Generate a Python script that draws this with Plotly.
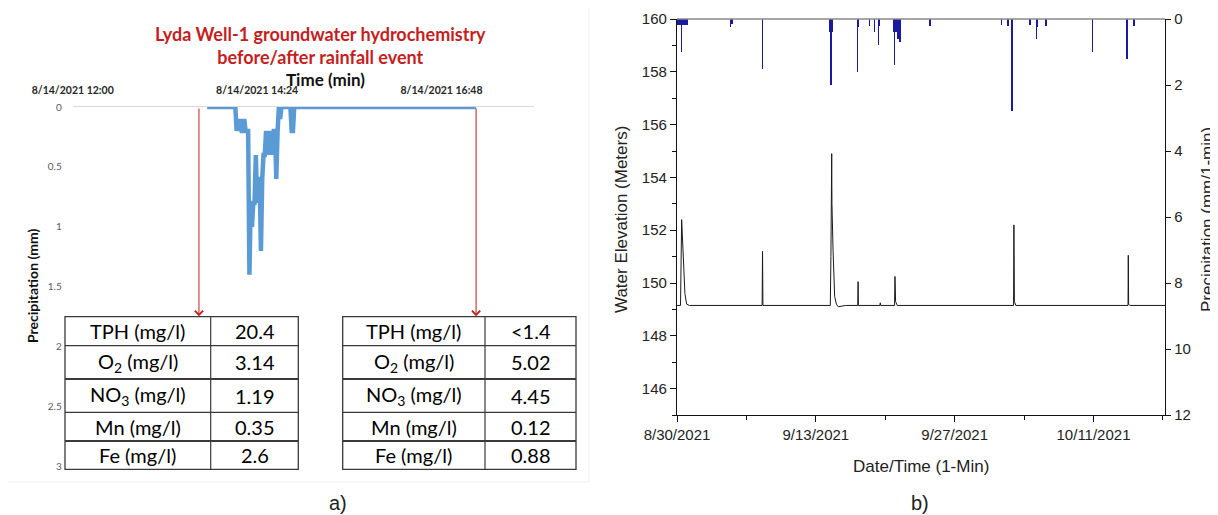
import plotly.graph_objects as go

# the page body adds an 8px margin, so the figure is drawn 8px smaller and
# every reference pixel position is shifted by that offset
OFF = 8
W, H = 1218 - OFF, 515 - OFF

# ---------------- Panel a) data ----------------
A_DAY = "2021-08-14"
A_CLOCK = ["13:45", "14:07", "14:08", "14:09", "14:10", "14:11", "14:12", "14:13", "14:14",
           "14:15", "14:16", "14:17", "14:18", "14:19", "14:20", "14:21", "14:22", "14:23",
           "14:24", "14:25", "14:26", "14:27", "14:28", "14:29", "14:30", "14:31", "14:32",
           "14:33", "14:34", "14:35", "14:36", "14:37", "14:38", "14:39", "14:40", "14:41",
           "14:42", "14:43", "14:50", "14:51", "14:52", "14:53", "17:15"]
A_PRECIP_MM = [0, 0, 0.2, 0.1, 0.2, 0.1, 0.2, 0.2, 0.1,
               0.2, 0.2, 0.2, 1.4, 0.8, 1.0, 0.8, 0.8, 0.4,
               0.8, 0.6, 0.6, 1.2, 0.6, 0.4, 0.4, 0.2, 0.4,
               0.2, 0.4, 0.2, 0.4, 0.2, 0.2, 0.6, 0.2, 0,
               0.1, 0, 0, 0.2, 0.2, 0, 0]
A_SAMPLE_CLOCK = ["13:38:36", "17:15:00"]   # sampling times (red arrows)
A_XTICK_CLOCK = ["12:00", "14:24", "16:48"]
A_XTICK_TEXT = ["8/14/2021 12:00", "8/14/2021 14:24", "8/14/2021 16:48"]
A_YTICKS = [0, 0.5, 1, 1.5, 2, 2.5, 3]
A_YTICK_TEXT = ["0", "0.5", "1", "1.5", "2", "2.5", "3"]

TABLE_PARAMS = ["TPH (mg/l)", "O<sub>2</sub> (mg/l)", "NO<sub>3</sub> (mg/l)",
                "Mn (mg/l)", "Fe (mg/l)"]
BEFORE_VALUES = ["20.4", "3.14", "1.19", "0.35", "2.6"]
AFTER_VALUES = ["&lt;1.4", "5.02", "4.45", "0.12", "0.88"]

# ---------------- Panel b) data ----------------
WL_TIME = ["2021-08-30 00:00", "2021-08-30 08:30", "2021-08-30 11:15", "2021-08-30 15:15",
           "2021-08-30 19:10", "2021-08-30 23:15", "2021-08-31 06:00",
           "2021-09-07 14:00", "2021-09-07 15:00", "2021-09-07 16:00",
           "2021-09-14 11:00", "2021-09-14 12:30", "2021-09-14 14:24", "2021-09-14 15:00",
           "2021-09-14 17:45", "2021-09-14 21:30", "2021-09-15 01:40", "2021-09-15 06:00",
           "2021-09-16 00:00",
           "2021-09-17 05:30", "2021-09-17 06:15", "2021-09-17 07:00",
           "2021-09-19 11:00", "2021-09-19 12:00", "2021-09-19 13:00",
           "2021-09-20 22:30", "2021-09-20 23:30", "2021-09-21 01:00", "2021-09-21 05:00",
           "2021-10-02 22:30", "2021-10-02 23:20", "2021-10-03 00:30", "2021-10-03 04:00",
           "2021-10-14 11:30", "2021-10-14 12:10", "2021-10-14 13:00", "2021-10-14 16:00",
           "2021-10-18 05:00"]
WL_M = [149.15, 149.15, 152.4, 151.0,
        149.6, 149.2, 149.15,
        149.15, 151.2, 149.15,
        149.15, 151.0, 154.9, 153.0,
        151.2, 149.5, 149.2, 149.1,
        149.15,
        149.15, 150.05, 149.15,
        149.15, 149.25, 149.15,
        149.15, 150.25, 149.3, 149.15,
        149.15, 152.2, 149.3, 149.15,
        149.15, 151.05, 149.2, 149.15,
        149.15]

RAIN_TIME = ["2021-08-30 01:12", "2021-08-30 03:36", "2021-08-30 06:00", "2021-08-30 08:24",
             "2021-08-30 10:48", "2021-08-30 13:12", "2021-08-30 15:36", "2021-08-30 18:00",
             "2021-08-30 20:24", "2021-08-30 22:48", "2021-08-31 01:12",
             "2021-09-04 09:36", "2021-09-04 13:12", "2021-09-07 14:24",
             "2021-09-14 10:48", "2021-09-14 13:12", "2021-09-14 15:36",
             "2021-09-17 04:48", "2021-09-17 07:12", "2021-09-18 09:36", "2021-09-18 21:36",
             "2021-09-19 07:12", "2021-09-19 09:36", "2021-09-20 21:36", "2021-09-20 22:48",
             "2021-09-21 02:24", "2021-09-21 07:12", "2021-09-21 12:00", "2021-09-24 12:00",
             "2021-10-01 16:48", "2021-10-02 09:36", "2021-10-02 19:12", "2021-10-04 14:24",
             "2021-10-05 06:00", "2021-10-05 08:24", "2021-10-06 04:48", "2021-10-10 21:36",
             "2021-10-14 09:36", "2021-10-14 10:48", "2021-10-15 02:24"]
RAIN_MM = [0.18, 0.18, 0.18, 0.18,
           1.0, 0.18, 0.18, 0.18,
           0.18, 0.18, 0.18,
           0.23, 0.15, 1.5,
           0.38, 2.0, 0.38,
           1.6, 0.25, 0.2, 0.38,
           0.8, 0.2, 0.4, 1.4,
           0.4, 0.6, 0.7, 0.2,
           0.18, 0.2, 2.8, 0.18,
           0.6, 0.25, 0.2, 1.0,
           1.2, 0.6, 0.2]

B_XTICKS = ["2021-08-30", "2021-09-13", "2021-09-27", "2021-10-11"]
B_XMINOR = ["2021-09-06", "2021-09-20", "2021-10-04", "2021-10-18"]
B_YTICKS = [146, 148, 150, 152, 154, 156, 158, 160]
B_YMINOR = [145, 147, 149, 151, 153, 155, 157, 159]
B_Y2TICKS = [0, 2, 4, 6, 8, 10, 12]


def px(x):
    return (x - OFF) / W


def py(y):
    return 1 - (y - OFF) / H


CAL = "Lato"
ARI = "Liberation Sans, Arial"
RED = "#c41e1e"

fig = go.Figure()

# ---- panel a) trace
fig.add_trace(go.Scatter(
    x=[f"{A_DAY} {c}" for c in A_CLOCK], y=A_PRECIP_MM,
    mode="lines", line=dict(color="#5b9bd5", width=4.5),
    xaxis="x", yaxis="y", showlegend=False, hoverinfo="skip"))

# ---- panel b) traces
fig.add_trace(go.Scatter(
    x=WL_TIME, y=WL_M, mode="lines", line=dict(color="#1a1a1a", width=1),
    xaxis="x2", yaxis="y2", showlegend=False, hoverinfo="skip"))
fig.add_trace(go.Bar(
    x=RAIN_TIME, y=RAIN_MM, width=0.05 * 86400000,
    marker=dict(color="#1a1aa0", line=dict(width=0)),
    xaxis="x2", yaxis="y3", showlegend=False, hoverinfo="skip"))

A_X0, A_X1 = 72.7, 533.7
A_Y0, A_Y1 = 107, 466.6
B_X0, B_X1 = 677, 1165
B_Y0, B_Y1 = 19, 415

fig.update_layout(
    width=W, height=H, margin=dict(l=0, r=0, t=0, b=0, autoexpand=False),
    paper_bgcolor="white", plot_bgcolor="rgba(0,0,0,0)",
    bargap=0,
    xaxis=dict(domain=[px(A_X0), px(A_X1)], anchor="y", side="top", type="date",
               range=[f"{A_DAY} 12:00", f"{A_DAY} 18:00"],
               tickvals=[f"{A_DAY} {c}" for c in A_XTICK_CLOCK], ticktext=A_XTICK_TEXT,
               tickfont=dict(family=CAL, size=10.5, color="#262626", weight="bold"),
               ticks="", showgrid=False, zeroline=False, automargin=False,
               showline=True, linecolor="#d9d9d9", linewidth=1, ticklabelstandoff=8),
    yaxis=dict(domain=[py(A_Y1), py(A_Y0)], anchor="x", range=[3, 0],
               tickvals=A_YTICKS, ticktext=A_YTICK_TEXT,
               tickfont=dict(family=CAL, size=10, color="#595959"),
               ticks="", showgrid=False, zeroline=False, showline=False, automargin=False,
               ticklabelstandoff=10),
    xaxis2=dict(domain=[px(B_X0), px(B_X1)], anchor="y2", type="date",
                range=["2021-08-30 00:00", "2021-10-18 05:00"],
                tickvals=B_XTICKS, tickformat="%-m/%-d/%Y",
                tickfont=dict(family=ARI, size=15, color="#222"),
                ticks="outside", ticklen=6, tickwidth=1, tickcolor="#111",
                minor=dict(tickvals=B_XMINOR, ticks="outside", ticklen=4, tickcolor="#111"),
                showgrid=False, zeroline=False, showline=True, linecolor="#111", linewidth=1.3,
                automargin=False),
    yaxis2=dict(domain=[py(B_Y1), py(B_Y0)], anchor="x2", range=[145, 160],
                tickvals=B_YTICKS,
                tickfont=dict(family=ARI, size=15, color="#222"),
                ticks="outside", ticklen=6, tickwidth=1, tickcolor="#111",
                minor=dict(tickvals=B_YMINOR, ticks="outside", ticklen=4, tickcolor="#111"),
                showgrid=False, zeroline=False, showline=True, linecolor="#111", linewidth=1.3,
                automargin=False),
    yaxis3=dict(overlaying="y2", anchor="x2", side="right", range=[12, 0],
                tickvals=B_Y2TICKS,
                tickfont=dict(family=ARI, size=15, color="#222"),
                ticks="outside", ticklen=5, tickwidth=1, tickcolor="#111",
                showgrid=False, zeroline=False, showline=True, linecolor="#111", linewidth=1.3,
                automargin=False),
)

shapes = []
annotations = []

# top border of panel b
shapes.append(dict(type="line", xref="x2 domain", yref="y2 domain", x0=0, x1=1, y0=1, y1=1,
                   line=dict(color="#8a8a8a", width=1.5)))
# faint frame of the panel a chart image
shapes.append(dict(type="line", xref="paper", yref="paper", x0=px(589), x1=px(589),
                   y0=py(8), y1=py(482), line=dict(color="#efefef", width=1)))
shapes.append(dict(type="line", xref="paper", yref="paper", x0=px(8), x1=px(589),
                   y0=py(482), y1=py(482), line=dict(color="#efefef", width=1)))

# ---- tables
ROW_EDGES = [316.7, 345.7, 379, 412.3, 441, 469.3]
THICK = {2, 4}
TABLES = [((65, 210.7, 298.3), BEFORE_VALUES), ((342.7, 485, 576), AFTER_VALUES)]
for (xl, xm, xr), vals in TABLES:
    shapes.append(dict(type="rect", xref="paper", yref="paper",
                       x0=px(xl), x1=px(xr), y0=py(ROW_EDGES[-1]), y1=py(ROW_EDGES[0]),
                       line=dict(color="#3a3a3a", width=1.3), fillcolor="white", layer="above"))
    shapes.append(dict(type="line", xref="paper", yref="paper", x0=px(xm), x1=px(xm),
                       y0=py(ROW_EDGES[-1]), y1=py(ROW_EDGES[0]),
                       line=dict(color="#3a3a3a", width=1.2)))
    for i in range(1, len(ROW_EDGES) - 1):
        shapes.append(dict(type="line", xref="paper", yref="paper", x0=px(xl), x1=px(xr),
                           y0=py(ROW_EDGES[i]), y1=py(ROW_EDGES[i]),
                           line=dict(color="#3a3a3a", width=2.2 if i in THICK else 1.2)))
    for i, (p, v) in enumerate(zip(TABLE_PARAMS, vals)):
        yc = (ROW_EDGES[i] + ROW_EDGES[i + 1]) / 2
        annotations.append(dict(xref="paper", yref="paper", x=px((xl + xm) / 2), y=py(yc),
                                text=p, showarrow=False, xanchor="center", yanchor="middle",
                                font=dict(family=CAL, size=20, color="#000")))
        annotations.append(dict(xref="paper", yref="paper", x=px((xm + xr) / 2), y=py(yc),
                                text=v, showarrow=False, xanchor="center", yanchor="middle",
                                font=dict(family=CAL, size=20, color="#000")))

# ---- red arrows (sampling times)
for c in A_SAMPLE_CLOCK:
    t = f"{A_DAY} {c}"
    annotations.append(dict(xref="x", yref="y", x=t, y=1.745, axref="x", ayref="y", ax=t, ay=0,
                            text="", showarrow=True, arrowhead=4, arrowsize=1.6, arrowwidth=1,
                            arrowcolor=RED))

# ---- panel a texts
annotations += [
    dict(xref="paper", yref="paper", x=px(320), y=py(45), text="Lyda Well-1 groundwater hydrochemistry<br>before/after rainfall event",
         showarrow=False, xanchor="center", yanchor="middle",
         font=dict(family=CAL, size=18, color=RED, weight="bold")),
    dict(xref="paper", yref="paper", x=px(325), y=py(79), text="Time (min)",
         showarrow=False, xanchor="center", yanchor="middle",
         font=dict(family=CAL, size=17, color="#111", weight="bold")),
    dict(xref="paper", yref="paper", x=px(32), y=py(286), text="Precipitation (mm)", textangle=-90,
         showarrow=False, xanchor="center", yanchor="middle",
         font=dict(family=CAL, size=14, color="#111", weight="bold")),
    dict(xref="paper", yref="paper", x=px(338), y=py(503), text="a)",
         showarrow=False, xanchor="center", yanchor="middle",
         font=dict(family=ARI, size=20, color="#222")),
    # panel b texts
    dict(xref="paper", yref="paper", x=px(621), y=py(220), text="Water Elevation (Meters)", textangle=-90,
         showarrow=False, xanchor="center", yanchor="middle",
         font=dict(family=ARI, size=17, color="#222")),
    dict(xref="paper", yref="paper", x=px(1207), y=py(220), text="Precipitation (mm/1-min)", textangle=-90,
         showarrow=False, xanchor="center", yanchor="middle",
         font=dict(family=ARI, size=17, color="#222")),
    dict(xref="paper", yref="paper", x=px(921), y=py(466), text="Date/Time (1-Min)",
         showarrow=False, xanchor="center", yanchor="middle",
         font=dict(family=ARI, size=17, color="#222")),
    dict(xref="paper", yref="paper", x=px(920), y=py(503), text="b)",
         showarrow=False, xanchor="center", yanchor="middle",
         font=dict(family=ARI, size=20, color="#222")),
]

fig.update_layout(shapes=shapes, annotations=annotations)
fig.write_html("out.html")
